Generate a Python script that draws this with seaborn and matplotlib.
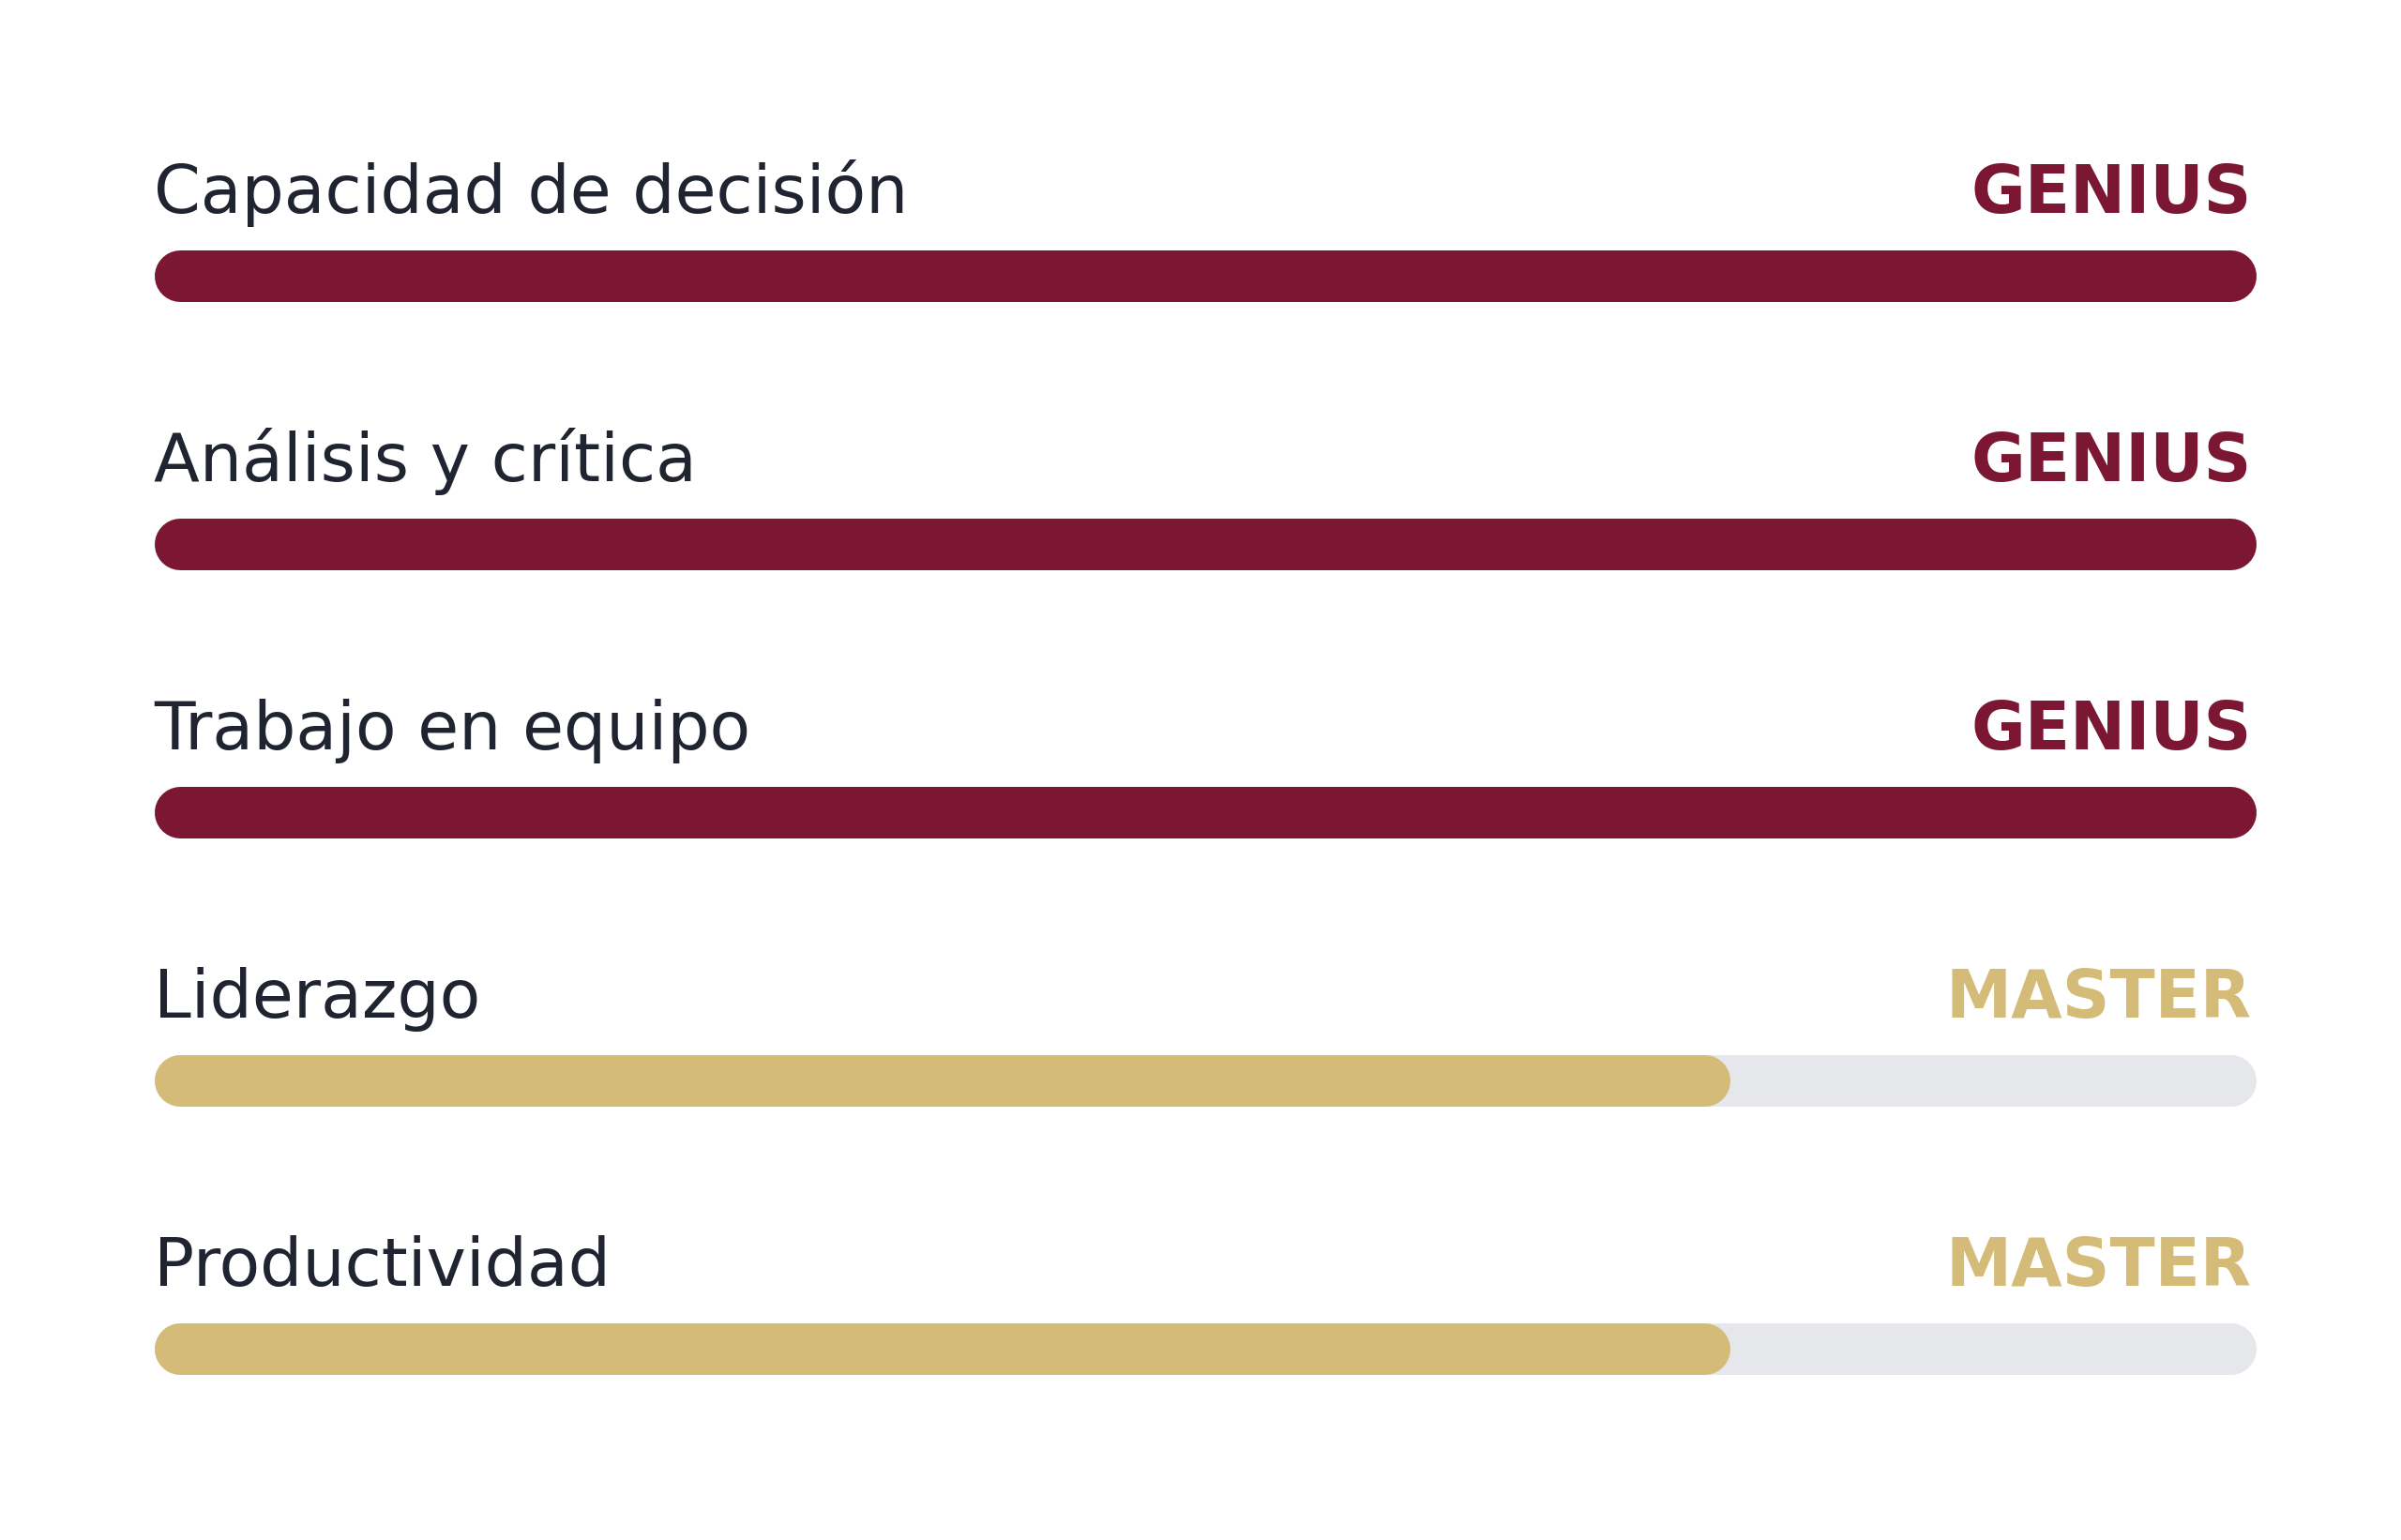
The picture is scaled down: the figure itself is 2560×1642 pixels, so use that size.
import pandas as pd
import seaborn as sns
import matplotlib.pyplot as plt
from matplotlib.lines import Line2D
from matplotlib.transforms import IdentityTransform

# Data
skills = ["Capacidad de decisión", "Análisis y crítica", "Trabajo en equipo", "Liderazgo", "Productividad"]
levels = ["GENIUS", "GENIUS", "GENIUS", "MASTER", "MASTER"]
scores = [100, 100, 100, 75, 75]
max_score = 100

level_colors = {"GENIUS": "#7B1733", "MASTER": "#D4BB78"}
track_color = "#E5E7EB"
text_color = "#1F2430"

df = pd.DataFrame({"skill": skills, "level": levels, "score": scores, "track": max_score})

sns.set_theme(style="white")
plt.rcParams['font.family'] = ['DejaVu Sans']

W, H, DPI = 2560, 1642, 200
fig = plt.figure(figsize=(W / DPI, H / DPI), dpi=DPI, facecolor="white")
ax = fig.add_axes([0, 0, 1, 1])

# pixel layout of the bars
left_px, right_px = 164, 2405
first_px, step_px = 294, 286
bar_px = 55
bar_h = bar_px / step_px

# grey track, then the coloured fill
sns.barplot(data=df, x="track", y="skill", orient="h", color=track_color,
            width=bar_h, saturation=1, ax=ax)
sns.barplot(data=df, x="score", y="skill", hue="level", palette=level_colors,
            orient="h", width=bar_h, dodge=False, saturation=1, legend=False, ax=ax)

span = right_px - left_px
ax.set_xlim(-left_px * max_score / span, (W - left_px) * max_score / span)
ax.set_ylim((H - first_px) / step_px, -first_px / step_px)
ax.axis("off")

# swap the square bars for pill shapes (thick lines with round caps, in pixels)
fig.canvas.draw()
for p in list(ax.patches):
    (x0, y0), (x1, y1) = ax.transData.transform(
        [(p.get_x(), p.get_y()), (p.get_x() + p.get_width(), p.get_y() + p.get_height())])
    fc = p.get_facecolor()
    p.remove()
    w, h = abs(x1 - x0), abs(y1 - y0)
    if w <= 0:
        continue
    xl, xr = min(x0, x1) + h / 2, max(x0, x1) - h / 2
    yc = (y0 + y1) / 2
    fig.add_artist(Line2D([xl, xr], [yc, yc], lw=h * 72 / DPI, color=fc,
                          solid_capstyle="round", transform=IdentityTransform()))

# labels above each bar
for i, (skill, level) in enumerate(zip(skills, levels)):
    ty = i - bar_h / 2 - 40 / step_px
    ax.text(0, ty, skill, ha="left", va="baseline", fontsize=25.7, color=text_color)
    ax.text(99.8, ty, level, ha="right", va="baseline", fontsize=25.4,
            fontweight="bold", color=level_colors[level])

fig.savefig("out.png", dpi=DPI, facecolor="white")
